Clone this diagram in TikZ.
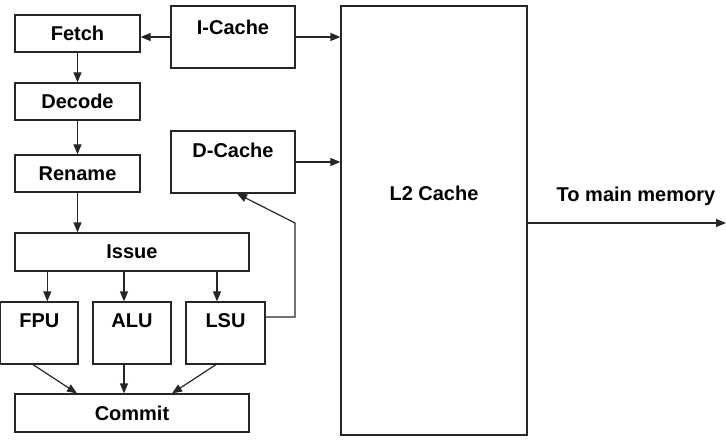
\documentclass[tikz,border=0pt]{standalone}
\usepackage{fontspec}
\setmainfont{Liberation Sans}
\usetikzlibrary{arrows.meta,positioning,calc}

\begin{document}
\begin{tikzpicture}[x=1pt,y=-1pt,line width=1.2pt,draw=black!85,
  font=\fontsize{20}{23}\selectfont\bfseries,
  box/.style={draw=black!85, inner sep=0pt},
  arr/.style={-{Triangle[length=10pt,width=8pt]}}]
  \useasboundingbox (0,0) rectangle (726,441);
  % pipeline front end
  \foreach \nm/\txt/\y in {fetch/Fetch/33.5, decode/Decode/101.5, rename/Rename/173.5}{
    \node[box, minimum width=125, minimum height=37] (\nm) at (77.5,\y) {\txt};
  }
  \node[box, minimum width=234, minimum height=38] (issue) at (132,252) {Issue};
  \node[box, minimum width=234, minimum height=38] (commit) at (132,413) {Commit};
  % functional units
  \foreach \nm/\txt/\x/\w in {fpu/FPU/39.3/77.4, alu/ALU/132/78, lsu/LSU/225.5/79}{
    \node[box, minimum width=\w, minimum height=62] (\nm) at (\x,333) {};
    \node (\nm txt) at (\x,320.5) {\txt};
  }
  % caches
  \node[box, minimum width=124, minimum height=62] (icache) at (233,37) {};
  \node (icachetxt) at (233,27) {I-Cache};
  \node[box, minimum width=124, minimum height=62] (dcache) at (233,162) {};
  \node (dcachetxt) at (233,150.5) {D-Cache};
  \node[box, minimum width=186, minimum height=429] (l2) at (434,220.5) {};
  \node (l2txt) at (434,193) {L2 Cache};
  \node (memtxt) at (636,196) {To main memory};
  \coordinate (mem) at (726,223);
  \coordinate (turn) at (295,223);

  \draw[arr] (icache.west) -- (icache.west -| fetch.east);
  \draw[arr] (fetch) -- (decode);
  \draw[arr] (decode) -- (rename);
  \draw[arr] (rename.south) -- (rename.south |- issue.north);
  \foreach \u/\dx in {fpu/8, alu/-8, lsu/-8.5}{
    \draw[arr] ([xshift=\dx pt]\u.north |- issue.south) -- ([xshift=\dx pt]\u.north);
  }
  \draw[arr] ([xshift=-6.3pt]fpu.south) -- ([xshift=-55pt]commit.north);
  \draw[arr] ([xshift=-8pt]alu.south) -- ([xshift=-8pt]commit.north);
  \draw[arr] ([xshift=-9.5pt]lsu.south) -- ([xshift=40pt]commit.north);
  \draw[arr] ([yshift=16pt]lsu.east) -| (turn) -- ([xshift=4pt]dcache.south);
  \draw[arr] (icache.east) -- (icache.east -| l2.west);
  \draw[arr] (dcache.east) -- (dcache.east -| l2.west);
  \draw[arr] (l2.east |- mem) -- (mem);
\end{tikzpicture}
\end{document}
